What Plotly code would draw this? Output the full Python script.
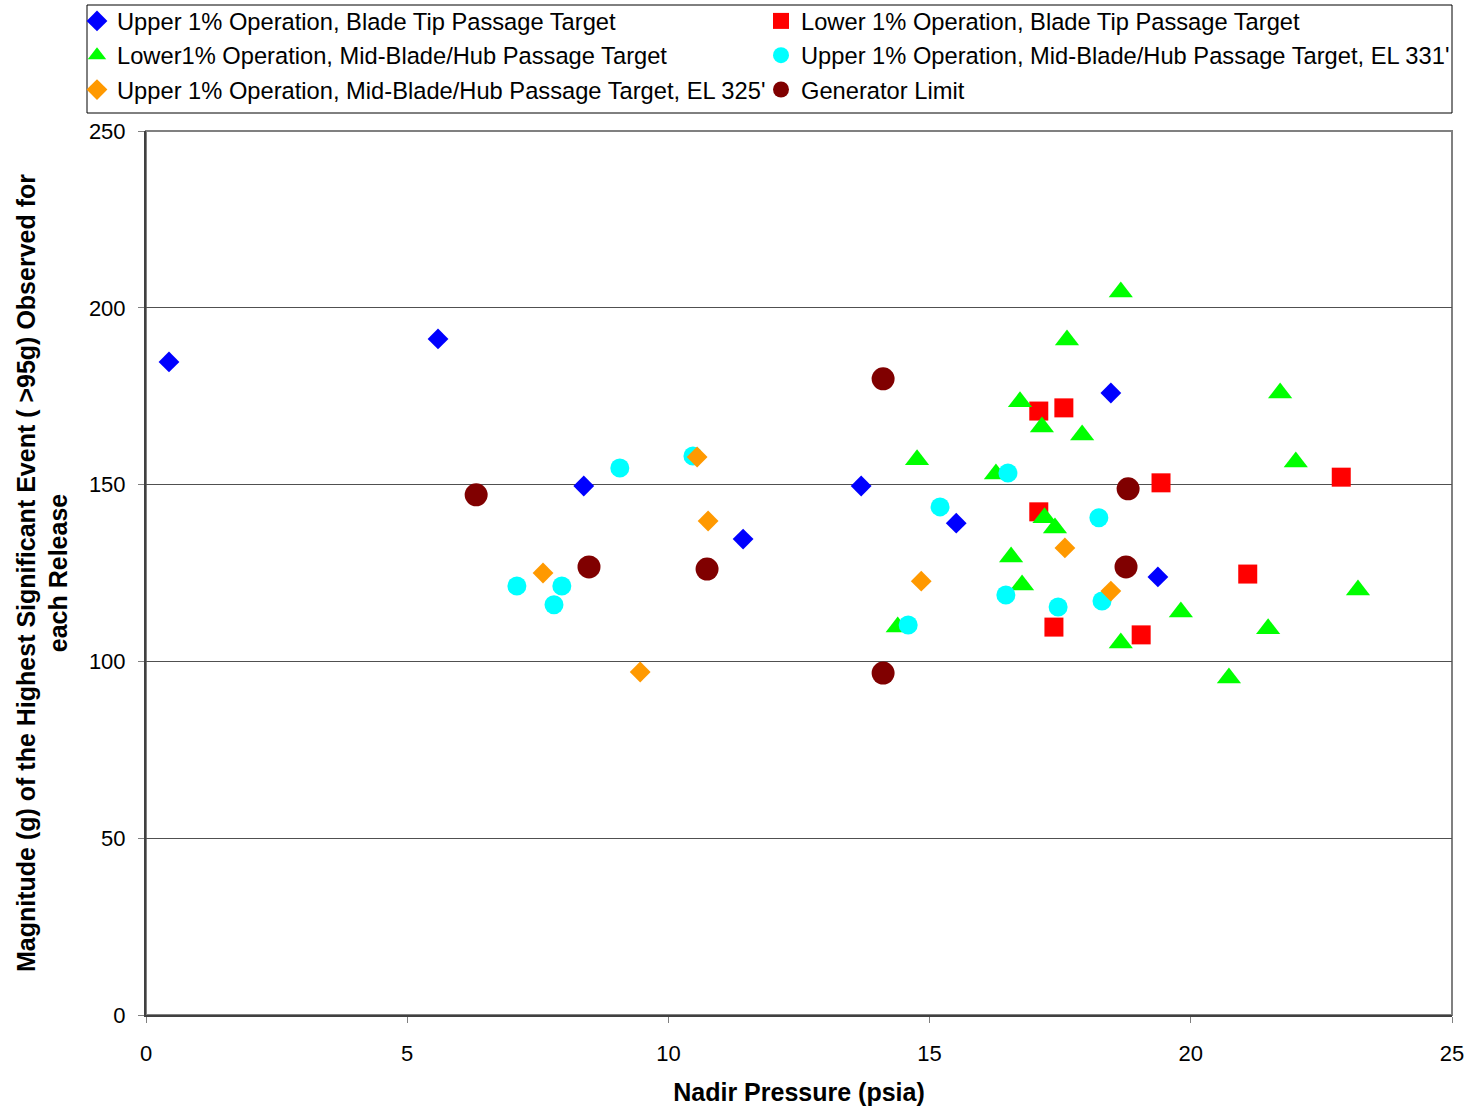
import plotly.graph_objects as go

# ---- data ----
blue_x = [0.44, 5.59, 8.38, 11.43, 13.69, 15.51, 18.47, 19.37]
blue_y = [184.7, 191.2, 149.6, 134.6, 149.6, 139.1, 175.9, 123.9]

red_x = [17.09, 17.57, 17.09, 19.43, 17.38, 19.05, 21.09, 22.88]
red_y = [170.8, 171.7, 142.3, 150.5, 109.7, 107.5, 124.7, 152.1]

green_x = [18.66, 17.63, 16.73, 17.15, 17.92, 14.76, 16.27, 17.20, 17.40, 16.56,
           16.77, 14.39, 18.66, 19.81, 20.73, 21.48, 21.71, 22.01, 23.20]
green_y = [204.5, 190.9, 173.4, 166.3, 164.0, 157.0, 153.0, 140.6, 137.7, 129.5,
           121.6, 109.7, 105.2, 114.0, 95.3, 109.2, 175.9, 156.4, 120.2]

cyan_x = [7.10, 7.81, 7.96, 9.07, 10.47, 15.20, 16.50, 14.59, 16.46, 17.46, 18.24, 18.30]
cyan_y = [121.3, 116.0, 121.3, 154.7, 158.1, 143.7, 153.3, 110.3, 118.8, 115.4, 140.6, 117.1]

orange_x = [7.60, 9.46, 10.55, 10.76, 14.84, 17.59, 18.47]
orange_y = [125.0, 97.0, 157.8, 139.7, 122.7, 132.1, 119.9]

gen_x = [6.32, 8.48, 10.74, 14.11, 14.11, 18.80, 18.76]
gen_y = [147.1, 126.7, 126.1, 179.9, 96.7, 148.8, 126.7]

names = [
    "Upper 1% Operation, Blade Tip Passage Target",
    "Lower 1% Operation, Blade Tip Passage Target",
    "Lower1% Operation, Mid-Blade/Hub Passage Target",
    "Upper 1% Operation, Mid-Blade/Hub Passage Target, EL 331'",
    "Upper 1% Operation, Mid-Blade/Hub Passage Target, EL 325'",
    "Generator Limit",
]
x_ticks = [0, 5, 10, 15, 20, 25]
y_ticks = [0, 50, 100, 150, 200, 250]

FONT = "Liberation Sans, Arial, sans-serif"

series = [
    (blue_x, blue_y, names[0], "diamond", "#0000FF", 16, "legend"),
    (red_x, red_y, names[1], "square", "#FF0000", 19, "legend2"),
    (green_x, green_y, names[2], "triangle-up", "#00FF00", 21, "legend"),
    (cyan_x, cyan_y, names[3], "circle", "#00FFFF", 19, "legend2"),
    (orange_x, orange_y, names[4], "diamond", "#FF9900", 16, "legend"),
    (gen_x, gen_y, names[5], "circle", "#800000", 23, "legend2"),
]

fig = go.Figure()
for i, (xs, ys, nm, sym, col, sz, lg) in enumerate(series):
    fig.add_trace(go.Scatter(
        x=xs, y=ys, mode="markers", name=nm, legend=lg, legendgroup="g%d" % i,
        marker=dict(symbol=sym, color=col, size=sz, line=dict(width=0)),
    ))

W, H = 1475, 1110
L, R, T, B = 146, 23, 131, 95
pw, ph = W - L - R, H - T - B

def px2x(px):
    return (px - L) / pw

def py2y(py):
    return (H - B - py) / ph

legend_common = dict(
    font=dict(family=FONT, size=23.7, color="black"),
    bgcolor="rgba(0,0,0,0)", borderwidth=0,
    orientation="v", traceorder="grouped", tracegroupgap=0.5,
    xanchor="left", yanchor="top", itemsizing="trace",
)
fig.update_layout(
    width=W, height=H,
    margin=dict(l=L, r=R, t=T, b=B, autoexpand=False),
    paper_bgcolor="white", plot_bgcolor="white",
    font=dict(family=FONT, size=22, color="black"),
    showlegend=True,
    legend=dict(x=px2x(77), y=py2y(-1), **legend_common),
    legend2=dict(x=px2x(761), y=py2y(-1), **legend_common),
    xaxis=dict(
        range=[0, 25], tickvals=x_ticks, ticktext=[str(v) for v in x_ticks],
        showgrid=False, zeroline=False, showline=True, linecolor="#404040", linewidth=2,
        ticks="outside", ticklen=6, tickcolor="#808080", tickwidth=1,
        tickfont=dict(family=FONT, size=22, color="black"),
        ticklabelstandoff=12,
        title=dict(text="<b>Nadir Pressure (psia)</b>", font=dict(family=FONT, size=25, color="black"), standoff=18),
        automargin=False,
    ),
    yaxis=dict(
        range=[0, 250], tickvals=y_ticks, ticktext=[str(v) for v in y_ticks],
        showgrid=True, gridcolor="#505050", gridwidth=1, zeroline=False,
        showline=True, linecolor="#404040", linewidth=2,
        ticks="outside", ticklen=6, tickcolor="#808080", tickwidth=1,
        tickfont=dict(family=FONT, size=22, color="black"),
        ticklabelstandoff=8,
        title=dict(text="<b>Magnitude (g) of the Highest Significant Event ( >95g) Observed for<br>each Release</b>",
                   font=dict(family=FONT, size=25, color="black"), standoff=14),
        automargin=False,
    ),
    shapes=[
        dict(type="rect", xref="paper", yref="paper", x0=0, x1=1, y0=0, y1=1,
             line=dict(color="#808080", width=2), fillcolor="rgba(0,0,0,0)", layer="below"),
        dict(type="rect", xref="paper", yref="paper", x0=px2x(87), x1=px2x(1452),
             y0=py2y(113), y1=py2y(5), line=dict(color="black", width=1),
             fillcolor="rgba(0,0,0,0)"),
    ],
)

fig.write_html("out.html", config={"displayModeBar": False},
               post_script="document.body.style.margin='0';")
